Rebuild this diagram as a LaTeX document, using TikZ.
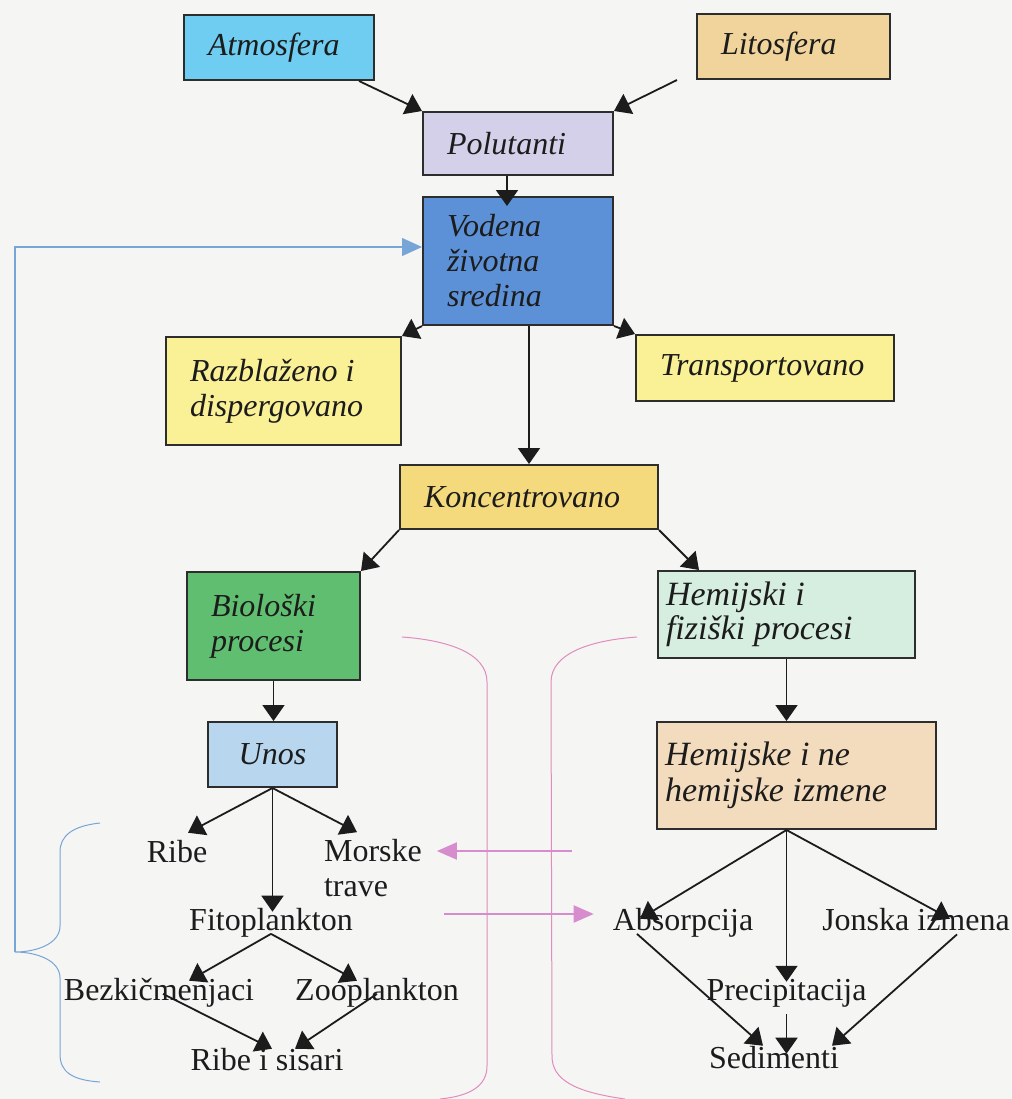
\documentclass[tikz,border=0pt]{standalone}
\usepackage{fontspec}
\setmainfont{Liberation Serif}
\usetikzlibrary{arrows.meta}

\definecolor{paper}{RGB}{245,245,244}
\definecolor{ink}{RGB}{28,28,28}
\definecolor{boxline}{RGB}{45,45,45}
\definecolor{atmfill}{RGB}{110,205,240}
\definecolor{litfill}{RGB}{240,212,155}
\definecolor{polfill}{RGB}{212,208,234}
\definecolor{vodfill}{RGB}{92,145,215}
\definecolor{palefill}{RGB}{250,240,150}
\definecolor{konfill}{RGB}{244,218,125}
\definecolor{biofill}{RGB}{96,190,112}
\definecolor{hfpfill}{RGB}{214,238,224}
\definecolor{unofill}{RGB}{184,214,238}
\definecolor{hizfill}{RGB}{243,220,190}
\definecolor{feedblue}{RGB}{120,165,215}
\definecolor{pinkline}{RGB}{225,140,190}
\definecolor{pinkarrow}{RGB}{215,140,205}

\begin{document}
\begin{tikzpicture}[x=0.5pt,y=-0.5pt,>={Triangle[length=8pt,width=11pt]},
    box node/.style={draw=boxline,line width=1pt,align=flush left,inner xsep=12pt,inner ysep=0pt,
      font=\fontsize{16}{17.5}\selectfont\itshape,text=ink},
    label node/.style={anchor=base,font=\fontsize{16}{17.5}\selectfont,text=ink},
    link/.style={->,draw=ink,line width=0.9pt},
    feedback/.style={-{Triangle[length=10pt,width=9pt]},draw=feedblue,line width=0.6pt},
    pink link/.style={-{Triangle[length=10pt,width=8.5pt]},draw=pinkarrow,line width=1pt},
    bracket/.style={line width=0.5pt}]
  \path[use as bounding box,fill=paper] (0,0) rectangle (1012,1099);

  % brackets
  \draw[bracket,draw=feedblue] (100,823) .. controls (72,826) and (60,836) .. (60,852)
    -- (60,926) .. controls (60,944) and (36,952) .. (15,952) coordinate (tip)
    .. controls (36,952) and (60,960) .. (60,978)
    -- (60,1054) .. controls (60,1072) and (72,1080) .. (100,1082);
  \draw[bracket,draw=pinkline] (402,637) .. controls (445,640) and (487,652) .. (487,682)
    -- (487,1066) .. controls (487,1086) and (470,1096) .. (440,1099);
  \draw[bracket,draw=pinkline] (637,637) .. controls (594,640) and (551,652) .. (551,682)
    -- (552,1056) .. controls (552,1080) and (575,1092) .. (625,1099);

  % boxes
  \node[box node,fill=atmfill,text width=71pt,minimum height=32.5pt] (atm) at (279,47.5) {Atmosfera};
  \node[box node,fill=litfill,text width=72.5pt,minimum height=32.5pt] (lit) at (793.5,46.5) {Litosfera};
  \node[box node,fill=polfill,text width=71pt,minimum height=31.5pt] (pol) at (518,143.5) {Polutanti};
  \node[box node,fill=vodfill,text width=71pt,minimum height=64pt] (vod) at (518,261) {Vodena\\životna\\sredina};
  \node[box node,fill=palefill,text width=93.5pt,minimum height=54pt] (raz) at (283.5,391) {Razblaženo i\\dispergovano};
  \node[box node,fill=palefill,text width=105pt,minimum height=33pt] (tra) at (765,368) {Transportovano};
  \node[box node,fill=konfill,text width=105pt,minimum height=32pt] (kon) at (529,497) {Koncentrovano};
  \node[box node,fill=biofill,text width=62.5pt,minimum height=54pt] (bio) at (273.5,626) {Biološki\\procesi};
  \node[box node,fill=hfpfill,inner xsep=4pt,text width=120.5pt,minimum height=43.5pt,
        font=\fontsize{17}{17}\selectfont\itshape] (hfp) at (786.5,614.5) {Hemijski i\\fiziški procesi};
  \node[box node,fill=unofill,align=flush center,text width=40.5pt,minimum height=32.5pt] (uno) at (272.5,754.5) {Unos};
  \node[box node,fill=hizfill,inner xsep=4pt,text width=131.5pt,minimum height=53.5pt,
        font=\fontsize{17}{18}\selectfont\itshape] (hiz) at (796.5,775.5) {Hemijske i ne\\hemijske izmene};

  % plain labels
  \node[label node] (ribe) at (177,862) {Ribe};
  \node[label node,anchor=west,align=left] (morske) at (317,868) {Morske\\trave};
  \node[label node] (fito) at (271,930) {Fitoplankton};
  \node[label node] (bezk) at (159,1000) {Bezkičmenjaci};
  \node[label node] (zoo) at (377,1000) {Zooplankton};
  \node[label node] (ris) at (267,1070) {Ribe i sisari};
  \node[label node] (abs) at (683,930) {Absorpcija};
  \node[label node] (jon) at (916,930) {Jonska izmena};
  \node[label node] (pre) at (786.5,1000) {Precipitacija};
  \node[label node] (sed) at (774,1068) {Sedimenti};
  \coordinate (hb) at ([xshift=-5pt]hiz.south);
  \coordinate (p1) at (572,851);
  \coordinate (p2) at (444,914);

  % arrows
  \draw[link] ([xshift=-8pt]atm.south east) -- (pol.north west);
  \draw[link] ([xshift=-9.5pt]lit.south west) -- (pol.north east);
  \draw[link] ([xshift=-5.5pt]pol.south) -- ([xshift=-5.5pt,yshift=-5pt]vod.north);
  \draw[link] (vod.south west) -- (raz.north east);
  \draw[link] (vod.south east) -- (tra.north west);
  \draw[link] (vod.south -| kon.north) -- (kon.north);
  \draw[link] (kon.south west) -- (bio.north east);
  \draw[link] (kon.south east) -- ([xshift=21pt]hfp.north west);
  \draw[link] (bio.south) -- (bio.south |- uno.north);
  \draw[link] (hfp.south) -- (hfp.south |- hiz.north);
  \draw[link] (uno.south) -- ([xshift=5.5pt]ribe.north);
  \draw[link] (uno.south) -- ([xshift=20pt]morske.north west);
  \draw[link] (uno.south) -- ([yshift=-5.5pt]uno.south |- fito.north);
  \draw[link] ([yshift=5pt]fito.south) -- ([xshift=15pt,yshift=-5pt]bezk.north);
  \draw[link] ([yshift=5pt]fito.south) -- ([xshift=-10pt,yshift=-5pt]zoo.north);
  \draw[link] ([xshift=2pt,yshift=10pt]bezk.south) -- ([xshift=2.5pt,yshift=-4pt]ris.north);
  \draw[link] ([yshift=10pt]zoo.south) -- ([xshift=14pt,yshift=-4pt]ris.north);
  \draw[link] (hb) -- ([xshift=-21.5pt,yshift=-9pt]abs.north);
  \draw[link] (hb) -- ([yshift=-5pt]hb |- pre.north);
  \draw[link] (hb) -- ([xshift=17pt,yshift=-9pt]jon.north);
  \draw[link] ([xshift=-23pt,yshift=5pt]abs.south) -- ([xshift=-5.5pt,yshift=-3.5pt]sed.north);
  \draw[link] ([xshift=20.5pt,yshift=1.5pt]jon.south) -- ([xshift=29pt,yshift=-3.5pt]sed.north);
  \draw[link] (pre.south) -- ([yshift=-7.5pt]pre.south |- sed.north);
  \draw[pink link,shorten >=4pt] (p1) -- (p1 -| morske.east);
  \draw[pink link,shorten >=6pt] (p2) -- (p2 -| abs.west);
  \draw[feedback] (tip) |- ([yshift=7pt]vod.west);
\end{tikzpicture}
\end{document}
